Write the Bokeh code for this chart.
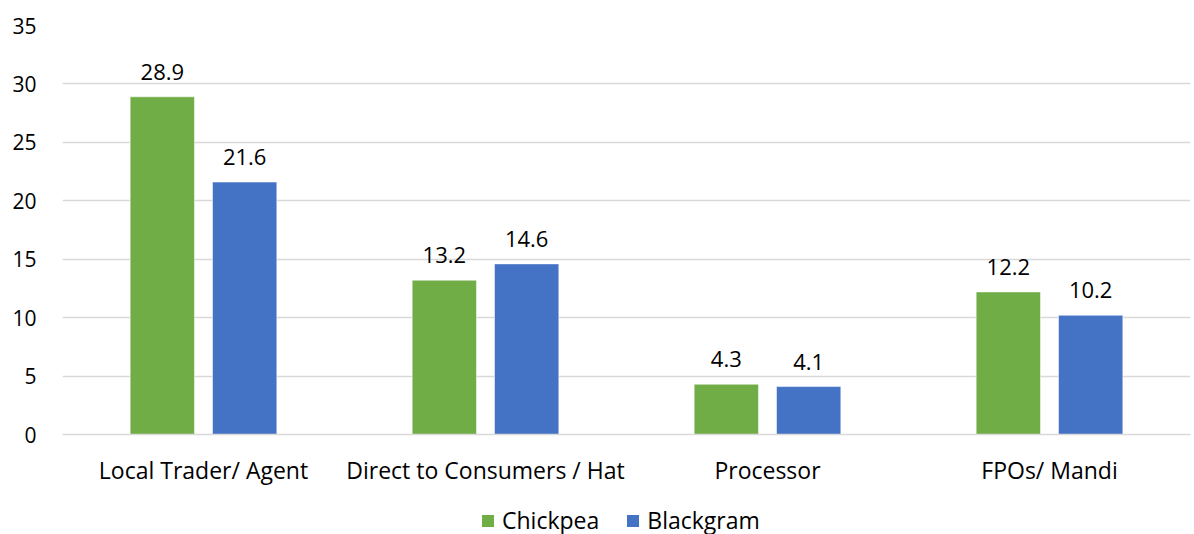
from bokeh.plotting import figure
from bokeh.layouts import column
from bokeh.models import ColumnDataSource, Legend, LegendItem, FactorRange, SingleIntervalTicker, LabelSet
from bokeh.core.properties import value
from bokeh.transform import dodge
from bokeh.embed import file_html
from bokeh.resources import INLINE

categories = ["Local Trader/ Agent", "Direct to Consumers / Hat", "Processor", "FPOs/ Mandi"]
series_names = ["Chickpea", "Blackgram"]
chickpea = [28.9, 13.2, 4.3, 12.2]
blackgram = [21.6, 14.6, 4.1, 10.2]

FONT = "Open Sans"
GREEN = "#70AD47"
BLUE = "#4472C4"
GRID = "#D9D9D9"
OFF = 0.146
BAR_W = 0.228

src = ColumnDataSource(dict(
    cat=categories,
    chickpea=chickpea,
    blackgram=blackgram,
    chickpea_lbl=[f"{v:.1f}" for v in chickpea],
    blackgram_lbl=[f"{v:.1f}" for v in blackgram],
))

p = figure(
    x_range=FactorRange(*categories, range_padding=0),
    y_range=(0, 35),
    width=1194, height=490,
    output_backend="svg", toolbar_location=None,
    min_border_left=62, min_border_right=4, min_border_top=25, min_border_bottom=56,
)
p.outline_line_color = None

p.vbar(x=dodge("cat", -OFF, range=p.x_range), top="chickpea", width=BAR_W,
       source=src, fill_color=GREEN, line_color="white", line_width=0.5)
p.vbar(x=dodge("cat", OFF, range=p.x_range), top="blackgram", width=BAR_W,
       source=src, fill_color=BLUE, line_color="white", line_width=0.5)

for col, off in (("chickpea", -OFF), ("blackgram", OFF)):
    p.add_layout(LabelSet(
        x=dodge("cat", off, range=p.x_range), y=col, text=col + "_lbl", source=src,
        text_align="center", text_baseline="bottom", y_offset=17,
        text_font=value(FONT), text_font_size=value("22px"), text_color="#000000",
    ))

# y axis: labels only, light horizontal grid
p.yaxis.ticker = SingleIntervalTicker(interval=5)
p.yaxis.axis_line_color = None
p.yaxis.major_tick_line_color = None
p.yaxis.minor_tick_line_color = None
p.yaxis.major_label_text_font = FONT
p.yaxis.major_label_text_font_size = "21px"
p.yaxis.major_label_text_color = "#000000"
p.yaxis.major_label_standoff = 20
p.ygrid.grid_line_color = GRID
p.ygrid.grid_line_width = 1.5
p.xgrid.grid_line_color = None

# x axis: category names under a gray baseline
p.xaxis.axis_line_color = GRID
p.xaxis.axis_line_width = 1.5
p.xaxis.major_tick_line_color = None
p.xaxis.minor_tick_line_color = None
p.xaxis.major_label_text_font = FONT
p.xaxis.major_label_text_font_size = "23px"
p.xaxis.major_label_text_color = "#000000"
p.xaxis.major_label_standoff = 13

# legend strip underneath the chart
lg = figure(
    width=1194, height=60, x_range=(0, 1), y_range=(0, 1),
    output_backend="svg", toolbar_location=None,
    min_border_left=0, min_border_right=0, min_border_top=0, min_border_bottom=0,
)
lg.axis.visible = False
lg.grid.visible = False
lg.outline_line_color = None
# zero-height swatch renderers: only their legend glyphs are drawn
swatch = ColumnDataSource(dict(x=[0.5], top=[0]))
k1 = lg.vbar(x="x", top="top", bottom=0, width=0.1, source=swatch, fill_color=GREEN, line_color=None)
k2 = lg.vbar(x="x", top="top", bottom=0, width=0.1, source=swatch, fill_color=BLUE, line_color=None)

legend = Legend(
    items=[LegendItem(label=series_names[0], renderers=[k1]),
           LegendItem(label=series_names[1], renderers=[k2])],
    orientation="horizontal", location=(418, 14),
    label_text_font=FONT, label_text_font_size="23px", label_text_color="#000000",
    glyph_width=15, glyph_height=15, spacing=26, label_standoff=7,
    border_line_color=None, background_fill_alpha=0, padding=0, margin=0,
)
lg.add_layout(legend, "center")

open("out.html", "w").write(file_html(column(p, lg, spacing=0), INLINE))
